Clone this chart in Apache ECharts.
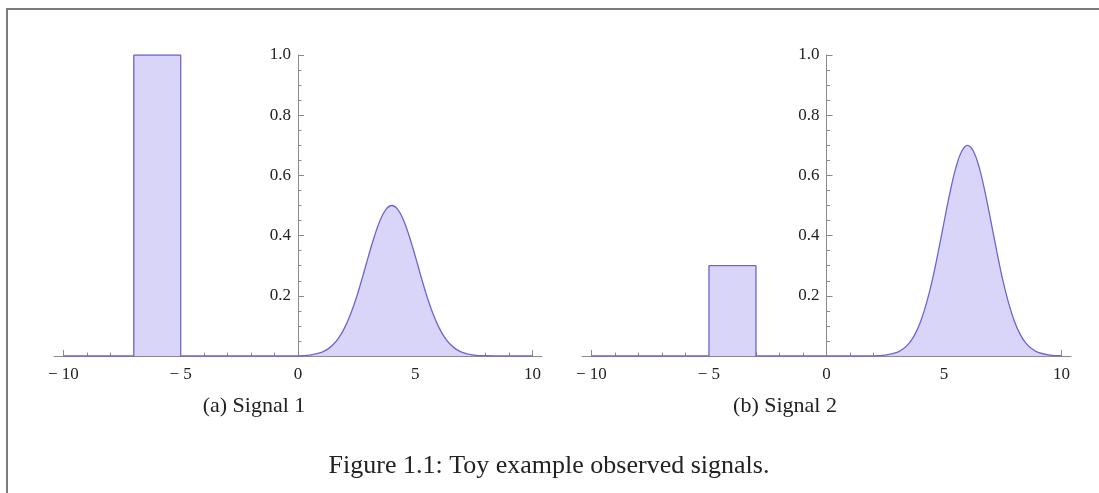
<!DOCTYPE html>
<html>
<head>
<meta charset="utf-8">
<script src="https://cdn.jsdelivr.net/npm/echarts@6/dist/echarts.min.js"></script>
<style>
  html, body { margin: 0; padding: 0; background: #fff; }
  #wrap { position: relative; width: 1099px; height: 493px; }
  #frame { position: absolute; left: 6px; top: 8px; right: 0; bottom: 0;
           border-left: 2px solid #7c7c7c; border-top: 2px solid #7c7c7c; }
  #chart { position: absolute; left: 0; top: 0; width: 1099px; height: 493px; }
</style>
</head>
<body>
<div id="wrap">
  <div id="frame"></div>
  <div id="chart"></div>
</div>
<script>
// signal 1: box on [-7,-5], then a bump around 4
var box1X = [-10, -7, -7, -5, -5, 0]
var box1Y = [0, 0, 1, 1, 0, 0]
var bump1X = [0, 0.5, 1, 1.25, 1.5, 1.75, 2, 2.25, 2.5, 2.75, 3, 3.25, 3.5, 3.75, 4,
  4.25, 4.5, 4.75, 5, 5.25, 5.5, 5.75, 6, 6.25, 6.5, 6.75, 7, 7.5, 8, 10]
var bump1Y = [0, 0.003, 0.012, 0.022, 0.038, 0.062, 0.096, 0.141, 0.197, 0.262, 0.331, 0.396, 0.451, 0.487, 0.5,
  0.487, 0.451, 0.396, 0.331, 0.262, 0.197, 0.141, 0.096, 0.062, 0.038, 0.022, 0.012, 0.003, 0.001, 0]

// signal 2: smaller box on [-5,-3], then a taller bump around 6
var box2X = [-10, -5, -5, -3, -3, 2]
var box2Y = [0, 0, 0.3, 0.3, 0, 0]
var bump2X = [2, 2.5, 3, 3.25, 3.5, 3.75, 4, 4.25, 4.5, 4.75, 5, 5.25, 5.5, 5.75, 6,
  6.25, 6.5, 6.75, 7, 7.25, 7.5, 7.75, 8, 8.25, 8.5, 8.75, 9, 9.5, 10]
var bump2Y = [0, 0.003, 0.012, 0.023, 0.041, 0.070, 0.114, 0.175, 0.252, 0.345, 0.445, 0.542, 0.625, 0.680, 0.7,
  0.680, 0.625, 0.542, 0.445, 0.345, 0.252, 0.175, 0.114, 0.070, 0.041, 0.023, 0.012, 0.003, 0.001]

var xMajor = [-10, -5, 0, 5, 10]
var xMinor = [-9, -8, -7, -6, -4, -3, -2, -1, 1, 2, 3, 4, 6, 7, 8, 9]
var yMajor = [0.2, 0.4, 0.6, 0.8, 1.0]
var yMinor = [0.05, 0.1, 0.15, 0.25, 0.3, 0.35, 0.45, 0.5, 0.55, 0.65, 0.7, 0.75, 0.85, 0.9, 0.95]

var subTitles = ['(a) Signal 1', '(b) Signal 2']
var caption = 'Figure 1.1: Toy example observed signals.'

var serif = '"Liberation Serif", "DejaVu Serif", serif'
var axisGray = '#8a8a8a'
var lineColor = '#6d66cc'
var fillColor = '#d9d5f8'

function pairs(xs, ys) {
  var out = []
  for (var i = 0; i < xs.length; i++) {
    out.push([xs[i], ys[i]])
  }
  return out
}

function xFmt(v) {
  return v < 0 ? '\u2212 ' + Math.abs(v) : String(v)
}

var grids = [
  {left: 54, top: 55, width: 488, height: 301},
  {left: 582, top: 55, width: 489, height: 301}
]

var xAxes = []
var yAxes = []
for (var g = 0; g < 2; g++) {
  // y axis sits at x = 0, i.e. half way across the symmetric x range
  var yOffset = -grids[g].width / 2
  xAxes.push({
    gridIndex: g, type: 'value', min: -10.4, max: 10.4,
    axisLine: {onZero: false, lineStyle: {color: axisGray, width: 1}},
    axisTick: {inside: true, length: 6, customValues: xMajor, lineStyle: {color: axisGray}},
    axisLabel: {customValues: xMajor, formatter: xFmt, color: '#222', fontFamily: serif, fontSize: 17, margin: 10},
    splitLine: {show: false}
  })
  xAxes.push({
    gridIndex: g, type: 'value', min: -10.4, max: 10.4, position: 'bottom',
    axisLine: {show: false},
    axisTick: {inside: true, length: 3.5, customValues: xMinor, lineStyle: {color: axisGray}},
    axisLabel: {show: false},
    splitLine: {show: false}
  })
  yAxes.push({
    gridIndex: g, type: 'value', min: 0, max: 1, position: 'left', offset: yOffset,
    axisLine: {show: true, onZero: false, lineStyle: {color: axisGray, width: 1}},
    axisTick: {show: true, inside: true, length: 6, customValues: yMajor, lineStyle: {color: axisGray}},
    axisLabel: {customValues: yMajor, formatter: function (v) { return v.toFixed(1) }, color: '#222', fontFamily: serif, fontSize: 17, margin: 7},
    splitLine: {show: false}
  })
  yAxes.push({
    gridIndex: g, type: 'value', min: 0, max: 1, position: 'left', offset: yOffset,
    axisLine: {show: false, onZero: false},
    axisTick: {show: true, inside: true, length: 3.5, customValues: yMinor, lineStyle: {color: axisGray}},
    axisLabel: {show: false},
    splitLine: {show: false}
  })
}

function signalSeries(data, g, smooth) {
  return {
    type: 'line', xAxisIndex: g * 2, yAxisIndex: g * 2, data: data,
    showSymbol: false, smooth: smooth, animation: false,
    lineStyle: {color: lineColor, width: 1.3},
    areaStyle: {color: fillColor, opacity: 1},
    z: 3
  }
}

var chart = echarts.init(document.getElementById('chart'))
chart.setOption({
  backgroundColor: 'transparent',
  animation: false,
  grid: grids,
  xAxis: xAxes,
  yAxis: yAxes,
  series: [
    signalSeries(pairs(box1X, box1Y), 0, false),
    signalSeries(pairs(bump1X, bump1Y), 0, 0.4),
    signalSeries(pairs(box2X, box2Y), 1, false),
    signalSeries(pairs(bump2X, bump2Y), 1, 0.4)
  ],
  graphic: [
    {type: 'text', x: 254, y: 406, style: {text: subTitles[0], font: '22px ' + serif, fill: '#222', align: 'center', verticalAlign: 'middle'}},
    {type: 'text', x: 785, y: 406, style: {text: subTitles[1], font: '22px ' + serif, fill: '#222', align: 'center', verticalAlign: 'middle'}},
    {type: 'text', x: 549, y: 466, style: {text: caption, font: '26px ' + serif, fill: '#222', align: 'center', verticalAlign: 'middle'}}
  ]
})
</script>
</body>
</html>
